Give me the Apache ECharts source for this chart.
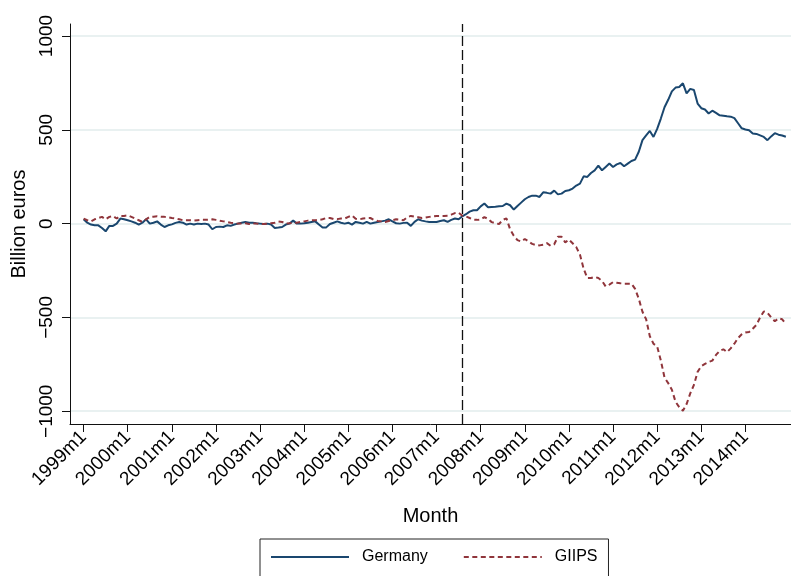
<!DOCTYPE html>
<html>
<head>
<meta charset="utf-8">
<script src="https://cdn.jsdelivr.net/npm/echarts@6/dist/echarts.min.js"></script>
<style>
  html, body { margin: 0; padding: 0; background: #fff; }
  #chart { width: 791px; height: 576px; }
</style>
</head>
<body>
<div id="chart"></div>
<script>
// months counted from 1999m1 (index 0) to 2014m12 (index 191)
var tickLabels = ['1999m1', '2000m1', '2001m1', '2002m1', '2003m1', '2004m1', '2005m1', '2006m1',
  '2007m1', '2008m1', '2009m1', '2010m1', '2011m1', '2012m1', '2013m1', '2014m1'];
var yTicks = [-1000, -500, 0, 500, 1000];
var breakMonth = 103; // 2007m8

// Billion euros, one value per month
var germany = [
  23, 5, -5, -9, -9, -23, -41, -12, -12, 0, 27, 23,
  18, 12, 5, -5, 5, 23, 0, 5, 12, -5, -18, -9,
  -4, 4, 9, 5, -5, 0, -5, 0, -2, 0, -5, -30,
  -18, -16, -18, -9, -12, -5, 0, 5, 9, 5, 5, 2,
  0, -2, 0, -5, -23, -21, -18, -5, 0, 16, 0, 0,
  2, 5, 9, 12, -5, -21, -20, -2, 5, 12, 5, 0,
  5, -5, 9, 5, 0, 9, 0, 5, 9, 12, 16, 23,
  12, 2, 0, 4, 5, -12, 9, 23, 16, 12, 9, 9,
  9, 14, 18, 9, 20, 27, 23, 39, 50, 64, 71, 71,
  92, 107, 87, 89, 90, 92, 94, 107, 98, 75, 94, 112,
  130, 142, 149, 149, 142, 167, 164, 160, 176, 156, 160, 174,
  178, 187, 203, 213, 252, 249, 270, 284, 309, 284, 302, 320,
  302, 316, 323, 306, 320, 334, 341, 383, 445, 470, 494, 462,
  505, 560, 620, 660, 705, 725, 728, 748, 694, 718, 712, 640,
  615, 608, 587, 602, 590, 577, 575, 572, 570, 562, 535, 508,
  502, 498, 480, 478, 470, 462, 445, 465, 482, 474, 470, 463
];
var giips = [
  27, 18, 12, 23, 30, 36, 23, 36, 41, 27, 41, 41,
  44, 36, 27, 18, 9, 23, 36, 37, 39, 37, 36, 34,
  30, 27, 23, 18, 18, 18, 16, 18, 20, 20, 21, 23,
  20, 16, 12, 9, 5, 2, 0, 0, 2, -2, 0, 0,
  -2, -2, 0, 2, 5, 12, 9, 0, 2, 4, 5, 9,
  12, 16, 18, 18, 20, 23, 30, 30, 24, 24, 27, 27,
  36, 44, 26, 23, 27, 29, 30, 20, 14, 12, 9, 14,
  18, 23, 21, 18, 34, 41, 37, 34, 30, 32, 36, 38,
  41, 41, 41, 42, 48, 56, 58, 42, 38, 30, 21, 20,
  22, 35, 25, 8, 2, -2, 20, 28, -30, -65, -88, -95,
  -82, -95, -108, -114, -116, -112, -104, -118, -110, -70, -70, -100,
  -85, -105, -125, -165, -240, -290, -290, -284, -290, -305, -335, -325,
  -312, -315, -318, -320, -320, -320, -348, -400, -470, -510, -600, -640,
  -655, -730, -820, -850, -885, -950, -978, -997, -962, -905, -860, -790,
  -760, -748, -738, -730, -700, -678, -670, -685, -665, -640, -610, -590,
  -580, -578, -560, -540, -500, -468, -475, -500, -520, -505, -510, -535
];

var font = "'Liberation Sans', Arial, Helvetica, sans-serif";
var xTicks = tickLabels.map(function (t, i) { return i * 12; });

var chart = echarts.init(document.getElementById('chart'));
chart.setOption({
  animation: false,
  backgroundColor: '#ffffff',
  textStyle: { fontFamily: font },
  grid: { left: 70, right: 0, top: 24, bottom: 152 },
  legend: {
    data: ['Germany', 'GIIPS'],
    left: 260,
    top: 539,
    padding: [10, 11, 20, 10],
    itemWidth: 78,
    itemHeight: 14,
    itemGap: 35,
    itemStyle: { opacity: 0 },
    borderColor: '#222',
    borderWidth: 1,
    textStyle: { fontSize: 16, color: '#000', fontFamily: font, padding: [0, 0, 0, 8] }
  },
  xAxis: {
    type: 'value',
    min: -3.7,
    max: 192.4,
    name: 'Month',
    nameLocation: 'middle',
    nameGap: 82,
    nameTextStyle: { fontSize: 20, color: '#000', fontFamily: font },
    axisLine: { onZero: false, lineStyle: { color: '#111', width: 1 } },
    axisTick: { customValues: xTicks, length: 8, lineStyle: { color: '#111' } },
    axisLabel: {
      customValues: xTicks,
      rotate: 45,
      margin: 10,
      fontSize: 19,
      color: '#000',
      fontFamily: font,
      formatter: function (v) { return tickLabels[Math.round(v / 12)]; }
    },
    splitLine: { show: false }
  },
  yAxis: {
    type: 'value',
    min: -1068,
    max: 1064,
    name: 'Billion euros',
    nameLocation: 'middle',
    nameGap: 36,
    nameTextStyle: { fontSize: 20, color: '#000', fontFamily: font },
    axisLine: { show: true, onZero: false, lineStyle: { color: '#111', width: 1 } },
    axisTick: { show: true, customValues: yTicks, length: 8, lineStyle: { color: '#111' } },
    axisLabel: {
      customValues: yTicks,
      rotate: 90,
      margin: 14,
      fontSize: 19,
      color: '#000',
      fontFamily: font,
      formatter: function (v) { return v < 0 ? '\u2212' + Math.abs(v) : String(v); }
    },
    splitLine: { show: true, lineStyle: { color: '#e2ecec', width: 1.5 } }
  },
  series: [{
    name: 'Germany',
    type: 'line',
    symbol: 'none',
    data: germany.map(function (v, i) { return [i, v]; }),
    lineStyle: { color: '#1a476f', width: 2 },
    itemStyle: { color: '#1a476f' },
    markLine: {
      silent: true,
      symbol: 'none',
      label: { show: false },
      lineStyle: { color: '#111', type: [10, 4], width: 1.3 },
      data: [{ xAxis: breakMonth }]
    }
  }, {
    name: 'GIIPS',
    type: 'line',
    symbol: 'none',
    data: giips.map(function (v, i) { return [i, v]; }),
    lineStyle: { color: '#90353b', width: 2, type: [5, 3.5] },
    itemStyle: { color: '#90353b' }
  }]
});
</script>
</body>
</html>
